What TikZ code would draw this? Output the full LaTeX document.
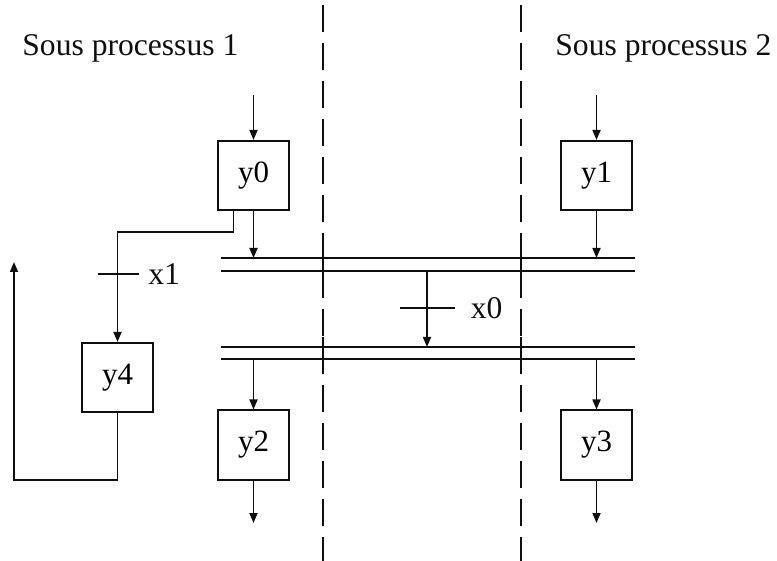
\documentclass[tikz,border=0pt]{standalone}
\usepackage{fontspec}
\setmainfont{Liberation Serif}
\usetikzlibrary{arrows.meta,positioning}
\definecolor{ink}{RGB}{15,15,15}
\tikzset{
  >={Triangle[length=5pt,width=4pt]},
  bloc/.style={draw=ink,line width=1pt,minimum width=35.5pt,minimum height=34.5pt,
    inner sep=0pt,font=\fontsize{15.5}{18}\selectfont},
  flow/.style={->,draw=ink,line width=0.85pt},
  wire/.style={draw=ink,line width=0.85pt},
  rail/.style={draw=ink,line width=1pt},
  border/.style={draw=ink,line width=0.85pt,dash pattern=on 13.5pt off 5.5pt},
  tag/.style={font=\fontsize{15.8}{18}\selectfont,text=ink,inner sep=0pt},
}
\begin{document}
\begin{tikzpicture}[x=0.5pt,y=-0.5pt]
  \useasboundingbox (0,0) rectangle (777,561);
  % column separators
  \draw[border] (323,5) -- (323,561);
  \draw[border] (521,5) -- (521,561);
  \node[tag,anchor=base west] (sp1) at (22,56) {Sous processus 1};
  \node[tag,anchor=base west] (sp2) at (555,56) {Sous processus 2};
  % blocks
  \node[bloc] (y0) at (253.5,175.5) {y0};
  \node[bloc] (y1) at (596.5,175.5) {y1};
  \node[bloc] (y4) at (117.5,377.5) {y4};
  \node[bloc] (y2) at (253.5,445) {y2};
  \node[bloc] (y3) at (596.5,445) {y3};
  % shared double lines
  \foreach \y in {258,271,347,359} \draw[rail] (221,\y) -- (635,\y);
  \foreach \x in {323,521} {
    \draw[wire] (\x,249) -- (\x,281);
    \draw[wire] (\x,337) -- (\x,369);
  }
  \coordinate (bus1) at (0,258);  \coordinate (bus1b) at (0,271);
  \coordinate (bus2) at (0,347);  \coordinate (bus2b) at (0,359);
  % inputs and outputs
  \coordinate (in0) at (253.5,95);  \coordinate (in1) at (596.5,95);
  \coordinate (out2) at (253.5,523); \coordinate (out3) at (596.5,523);
  \draw[flow] (in0) -- (y0);
  \draw[flow] (in1) -- (y1);
  \draw[flow] (y0) -- (y0 |- bus1);
  \draw[flow] (y1) -- (y1 |- bus1);
  \draw[flow] (y2 |- bus2b) -- (y2);
  \draw[flow] (y3 |- bus2b) -- (y3);
  \draw[flow] (y2) -- (out2);
  \draw[flow] (y3) -- (out3);
  % transition x0
  \coordinate (s0) at (427,0);
  \draw[flow] (s0 |- bus1b) -- coordinate[pos=0.49] (t0) (s0 |- bus2);
  \draw[wire] ([xshift=-13.5pt]t0) -- ([xshift=14pt]t0) node[tag,right=7.5pt] (lx0) {x0};
  % transition x1
  \coordinate (k1) at (117.5,232);
  \draw[flow] ([xshift=-10pt]y0.south) |- (k1) -- coordinate[pos=0.38] (t1) (y4);
  \draw[wire] ([xshift=-10pt]t1) -- ([xshift=10.5pt]t1) node[tag,right=4.5pt] (lx1) {x1};
  % loop back
  \coordinate (fbb) at (14,480); \coordinate (fb) at (14,262);
  \draw[flow] (y4.south) |- (fbb) -- (fb);
\end{tikzpicture}
\end{document}
